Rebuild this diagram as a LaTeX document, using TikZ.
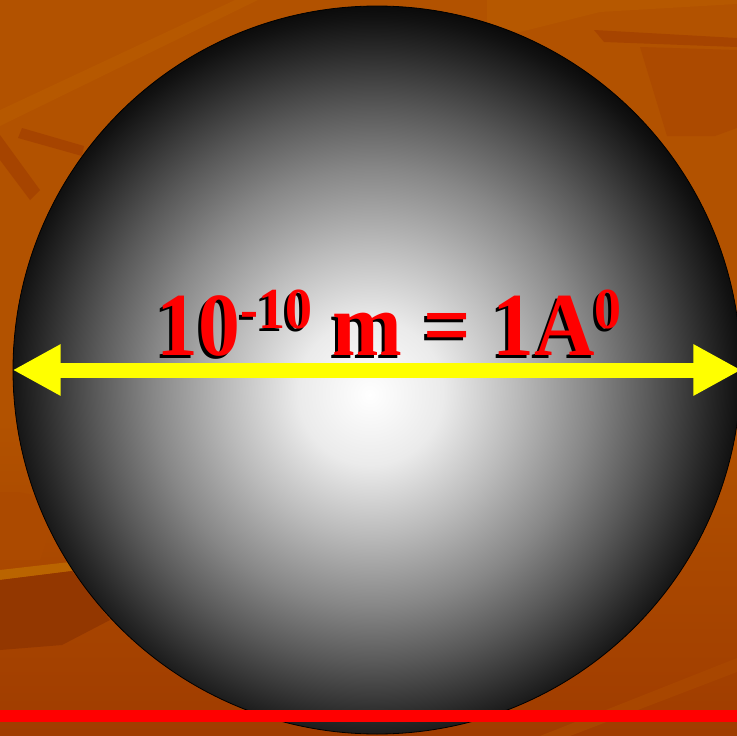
\documentclass[tikz,border=0pt]{standalone}
\usepackage{fontspec}
\setmainfont{Liberation Serif}
\usetikzlibrary{arrows.meta}
\definecolor{bgtop}{RGB}{178,82,0}
\definecolor{bgmid}{RGB}{172,74,0}
\definecolor{bgbot}{RGB}{160,60,0}
\definecolor{bglight}{RGB}{182,88,0}
\definecolor{bgdark}{RGB}{166,68,0}
\definecolor{bgstreak}{RGB}{186,100,0}
\definecolor{arrowyellow}{RGB}{255,255,0}
\pgfdeclareradialshading{ballshade}{\pgfpoint{-0.5bp}{-1.7bp}}{%
  color(0bp)=(white); color(5bp)=(black!8); color(10bp)=(black!27);
  color(15bp)=(black!47); color(19bp)=(black!65); color(23bp)=(black!84);
  color(25bp)=(black!93); color(27bp)=(black); color(50bp)=(black)}
\tikzset{
  atom/.style={circle,inner sep=0pt,minimum size=728pt,shading=ballshade,draw=black,line width=0.8pt},
  sizearr/.style={arrowyellow,line width=15pt,{Triangle[width=48pt,length=48pt]}-{Triangle[width=48pt,length=48pt]}},
  redline/.style={red,line width=12pt},
  sizelbl/.style={inner sep=0pt,anchor=base,font=\fontsize{90}{90}\selectfont\bfseries}
}
\newcommand{\supnum}[1]{\raisebox{27pt}{\fontsize{58}{58}\selectfont #1}}
\newcommand{\atomsize}{\scalebox{0.93}[1]{10\supnum{-10} m = 1A\supnum{0}}}

\begin{document}
\begin{tikzpicture}[x=1pt,y=-1pt]
  \useasboundingbox (0,0) rectangle (737,736);
  \clip (0,0) rectangle (737,736);
  % background
  \fill[bgtop] (0,0) rectangle (737,736);
  \shade[top color=bgtop,bottom color=bgbot] (0,420) rectangle (737,736);
  \fill[bglight] (0,110) -- (235,0) -- (258,0) -- (0,126) -- cycle;
  \fill[bgdark] (22,128) -- (84,146) -- (82,156) -- (18,138) -- cycle;
  \fill[bgdark] (0,135) -- (40,190) -- (30,200) -- (0,160) -- cycle;
  \fill[bglight] (487,0) -- (737,0) -- (737,4) -- (600,12) -- (520,32) -- (487,30) -- cycle;
  \fill[bgdark] (594,30) -- (737,38) -- (737,47) -- (604,42) -- cycle;
  \fill[bgmid] (640,47) -- (737,50) -- (737,128) -- (715,136) -- (667,136) -- cycle;
  \fill[bgmid] (0,492) -- (18,492) -- (60,500) -- (40,560) -- (0,560) -- cycle;
  \fill[bgstreak] (0,570) -- (70,562) -- (72,571) -- (0,580) -- cycle;
  \fill[bgbot!92!black] (0,580) -- (72,571) -- (110,620) -- (62,645) -- (0,650) -- cycle;
  \fill[bgmid!70!bgbot] (540,736) -- (737,658) -- (737,672) -- (570,736) -- cycle;

  \node[atom] (ball) at (377,370) {};
  \draw[sizearr] (ball.west) -- (ball.east);
  \node[sizelbl,black] (lblshadow) at (386,358) {\atomsize};
  \node[sizelbl,red] (lbl) at (389,355) {\atomsize};

  \coordinate (lineleft) at (0,716);
  \coordinate (lineright) at (737,716);
  \draw[redline] (lineleft) -- (lineright);
\end{tikzpicture}
\end{document}
